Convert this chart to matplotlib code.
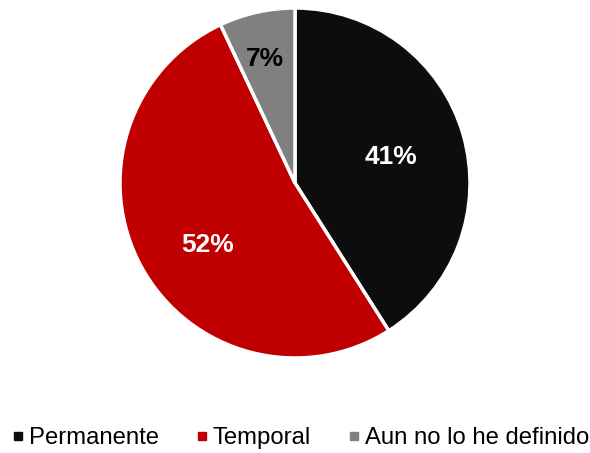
import numpy as np
import matplotlib.pyplot as plt
from matplotlib.lines import Line2D

plt.rcParams['font.family'] = ['Liberation Sans', 'DejaVu Sans']

labels = ['Permanente', 'Temporal', 'Aun no lo he definido']
values = [41, 52, 7]
colors = ['#0d0d0d', '#c00000', '#808080']
text_colors = ['white', 'white', 'black']
# radial position and angular shift of each percentage label
label_r = [0.57, 0.61, 0.73]
label_shift = [-1, 6.5, 1]

fig = plt.figure(figsize=(5.9, 4.53), dpi=100)
ax = fig.add_axes([295/590 - 175/590, 1 - (183 + 175)/453, 350/590, 350/453])

wedges, _ = ax.pie(values, colors=colors, startangle=90, counterclock=False,
                   wedgeprops=dict(edgecolor='white', linewidth=2.5))
ax.set_aspect('equal')
ax.set_xlim(-1, 1)
ax.set_ylim(-1, 1)

for w, v, tc, r, s in zip(wedges, values, text_colors, label_r, label_shift):
    ang = np.deg2rad((w.theta1 + w.theta2) / 2 + s)
    ax.text(r * np.cos(ang), r * np.sin(ang), f'{v}%', ha='center', va='center',
            color=tc, fontsize=19, fontweight='bold')

handles = [Line2D([], [], marker='s', linestyle='none', markersize=5.5,
                  markerfacecolor=c, markeredgecolor=c) for c in colors]
fig.legend(handles, labels, loc='center', bbox_to_anchor=(0.5 + 5/590, 1 - 438/453),
           ncol=3, frameon=False, fontsize=17.2, handletextpad=0.15,
           columnspacing=1.5, handlelength=0.6)

fig.savefig('out.png', dpi=100)
